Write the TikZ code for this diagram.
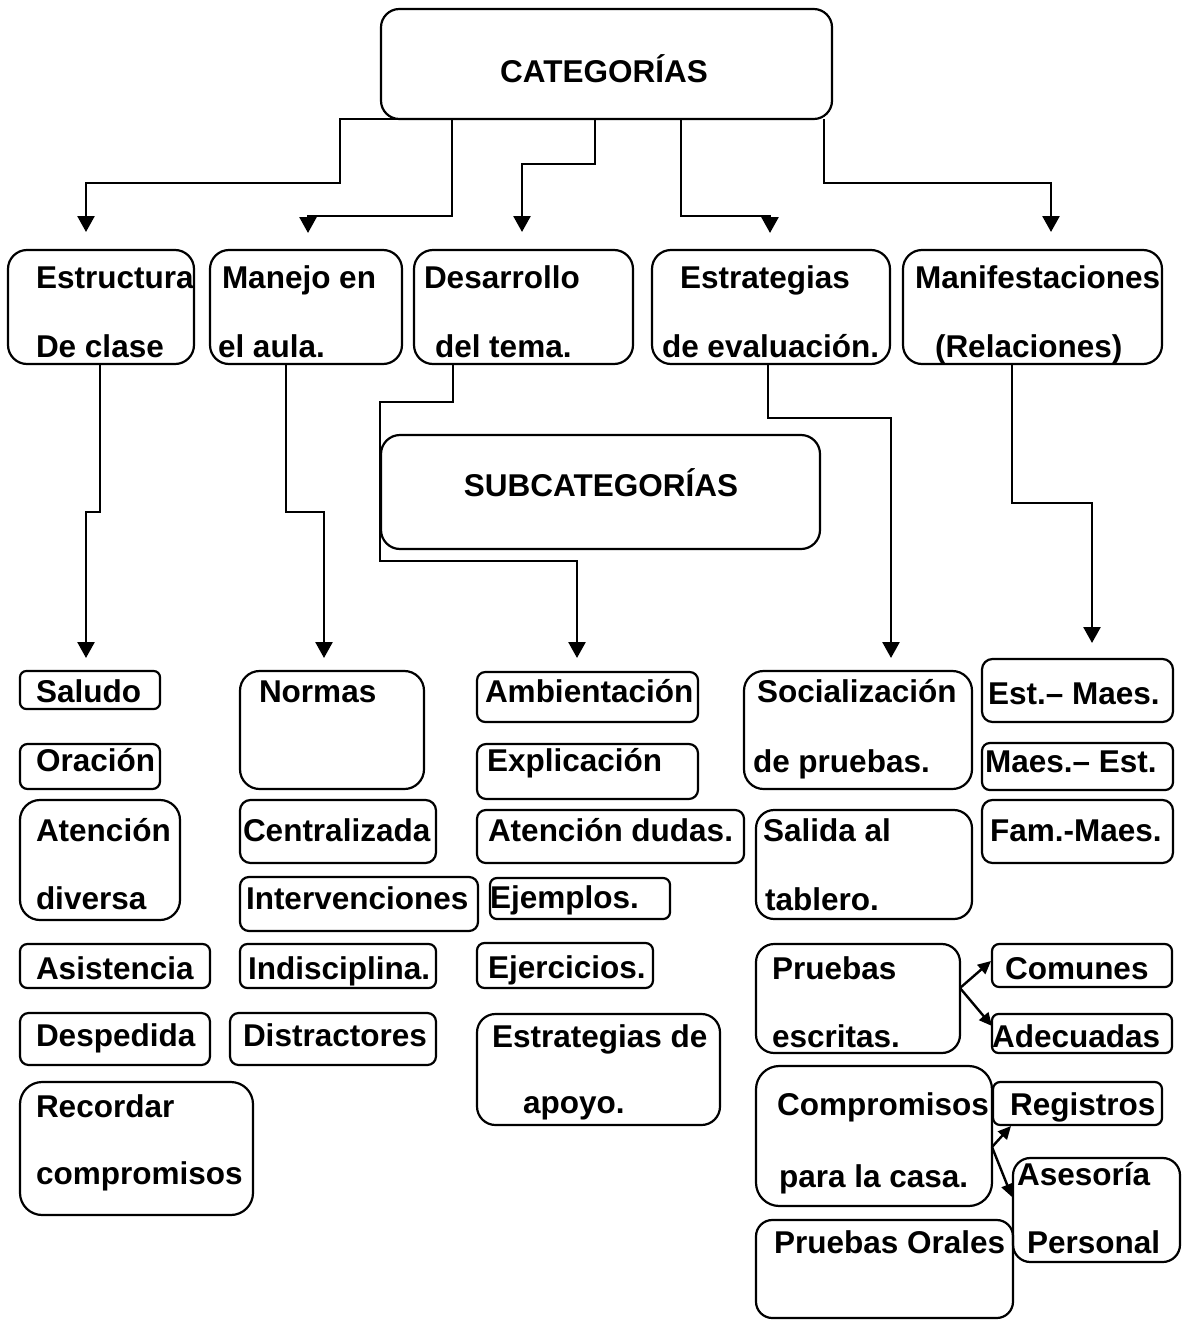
\documentclass[tikz,border=0pt]{standalone}
\usepackage{fontspec}
\setmainfont{Liberation Sans}
\usetikzlibrary{arrows.meta,calc}
\newcommand\rb[5]{%
  \pgfmathsetmacro\bw{#4-#2}%
  \pgfmathsetmacro\bh{#5-#3}%
  \pgfmathsetmacro\br{0.1667*min(\bw,\bh)}%
  \node[bx, minimum width=\bw pt, minimum height=\bh pt, rounded corners=\br pt] (#1) at ({(#2+#4)/2},{(#3+#5)/2}) {};}
\newcommand\tx[4]{\node[tx, anchor=base west] (#1) at (#2,#3) {#4};}
\begin{document}
\begin{tikzpicture}[x=1pt,y=-1pt,
  bx/.style={draw, line width=2.2pt, inner sep=0pt, outer sep=0pt},
  tx/.style={font=\fontsize{31.5}{36}\selectfont\bfseries, inner sep=0pt, outer sep=0pt},
  arr/.style={line width=2.6pt, -{Triangle[length=16pt,width=17pt]}},
  sarr/.style={line width=2.4pt, -{Triangle[length=13pt,width=12pt]}}]
\fill[white] (0,0) rectangle (1182,1322);
\useasboundingbox (0,0) rectangle (1182,1322);
% top and categories
\rb{top}{381}{9}{832}{119}
\node[tx, anchor=base] (topt) at (604,82) {CATEGORÍAS};
\rb{cA}{8}{250}{194}{364}
\rb{cB}{210}{250}{402}{364}
\rb{cC}{414}{250}{633}{364}
\rb{cD}{652}{250}{890}{364}
\rb{cE}{903}{250}{1162}{364}
\tx{cAa}{36}{288}{Estructura}\tx{cAb}{36}{357}{De clase}
\tx{cBa}{222}{288}{Manejo en}\tx{cBb}{218}{357}{el aula.}
\tx{cCa}{424}{288}{Desarrollo}\tx{cCb}{435}{357}{del tema.}
\tx{cDa}{680}{288}{Estrategias}\tx{cDb}{662}{357}{de evaluación.}
\tx{cEa}{915}{288}{Manifestaciones}\tx{cEb}{935}{357}{(Relaciones)}
\rb{sub}{381}{435}{820}{549}
\node[tx, anchor=base] (subt) at (601,496) {SUBCATEGORÍAS};
% column 1
\rb{saludo}{20}{671}{160}{709}\tx{saludot}{36}{702}{Saludo}
\rb{oracion}{20}{744}{160}{789}\tx{oraciont}{36}{771}{Oración}
\rb{atencion}{20}{800}{180}{920}\tx{atenciona}{36}{841}{Atención}\tx{atencionb}{36}{909}{diversa}
\rb{asist}{20}{944}{210}{988}\tx{asistt}{36}{979}{Asistencia}
\rb{desp}{20}{1013}{210}{1065}\tx{despt}{36}{1046}{Despedida}
\rb{record}{20}{1082}{253}{1215}\tx{recorda}{36}{1117}{Recordar}\tx{recordb}{36}{1184}{compromisos}
% column 2
\rb{normas}{240}{671}{424}{789}\tx{normast}{259}{702}{Normas}
\rb{central}{240}{800}{436}{863}\tx{centralt}{243}{841}{Centralizada}
\rb{interv}{240}{877}{478}{931}\tx{intervt}{246}{909}{Intervenciones}
\rb{indis}{240}{944}{436}{988}\tx{indist}{248}{979}{Indisciplina.}
\rb{distr}{230}{1013}{436}{1065}\tx{distrt}{243}{1046}{Distractores}
% column 3
\rb{ambi}{477}{672}{698}{722}\tx{ambit}{485}{702}{Ambientación}
\rb{expl}{477}{744}{698}{799}\tx{explt}{487}{771}{Explicación}
\rb{dudas}{477}{810}{744}{863}\tx{dudast}{488}{841}{Atención dudas.}
\rb{ejem}{490}{878}{670}{919}\tx{ejemt}{490}{908}{Ejemplos.}
\rb{ejer}{477}{943}{653}{988}\tx{ejert}{488}{978}{Ejercicios.}
\rb{apoyo}{477}{1014}{720}{1125}\tx{apoyoa}{492}{1047}{Estrategias de}\tx{apoyob}{523}{1113}{apoyo.}
% column 4
\rb{social}{744}{671}{972}{789}\tx{sociala}{757}{702}{Socialización}\tx{socialb}{753}{772}{de pruebas.}
\rb{salida}{756}{810}{972}{919}\tx{salidaa}{763}{841}{Salida al}\tx{salidab}{765}{910}{tablero.}
\rb{pescr}{756}{944}{960}{1053}\tx{pescra}{772}{979}{Pruebas}\tx{pescrb}{772}{1047}{escritas.}
\rb{comp}{756}{1066}{992}{1206}\tx{compa}{777}{1115}{Compromisos}\tx{compb}{779}{1187}{para la casa.}
\rb{orales}{756}{1220}{1013}{1318}\tx{oralest}{774}{1253}{Pruebas Orales}
% column 5
\rb{em}{982}{659}{1173}{722}\tx{emt}{988}{704}{Est.– Maes.}
\rb{me}{982}{743}{1173}{790}\tx{met}{985}{772}{Maes.– Est.}
\rb{fm}{982}{800}{1173}{863}\tx{fmt}{990}{841}{Fam.-Maes.}
\rb{comunes}{992}{944}{1172}{987}\tx{comunest}{1005}{979}{Comunes}
\rb{adec}{992}{1014}{1172}{1053}\tx{adect}{992}{1047}{Adecuadas}
\rb{regis}{993}{1082}{1162}{1125}\tx{regist}{1010}{1115}{Registros}
\rb{ases}{1013}{1158}{1180}{1262}\tx{asesa}{1017}{1185}{Asesoría}\tx{asesb}{1027}{1253}{Personal}
% connectors from CATEGORIAS
\draw[arr] ($(top.south west)+(19,0)$) -| ($(top.south west)+(-41,64)$) -| ($(cA.north west)+(78,-18)$);
\draw[arr] ($(top.south west)+(71,0)$) |- ($(cB.north west)+(98,-34)$) -- ($(cB.north west)+(98,-17)$);
\draw[arr] ($(top.south west)+(214,0)$) |- ($(cC.north west)+(108,-86)$) -- ($(cC.north west)+(108,-18)$);
\draw[arr] ($(top.south west)+(300,0)$) |- ($(cD.north west)+(118,-34)$) -- ($(cD.north west)+(118,-17)$);
\draw[arr] ($(top.south east)+(-8,0)$) |- ($(cE.north west)+(148,-67)$) -- ($(cE.north west)+(148,-18)$);
% connectors to subcategories
\draw[arr] ($(cA.south west)+(92,0)$) |- ($(saludo.north west)+(66,-159)$) -- ($(saludo.north west)+(66,-13)$);
\draw[arr] ($(cB.south west)+(76,0)$) |- ($(normas.north west)+(84,-159)$) -- ($(normas.north west)+(84,-13)$);
\draw[arr] ($(cC.south west)+(39,0)$) |- ($(sub.north west)+(-1,-33)$) |- ($(ambi.north west)+(100,-111)$) -- ($(ambi.north west)+(100,-14)$);
\draw[arr] ($(cD.south west)+(116,0)$) |- ($(social.north west)+(147,-253)$) -- ($(social.north west)+(147,-13)$);
\draw[arr] ($(cE.south west)+(109,0)$) |- ($(em.north west)+(110,-156)$) -- ($(em.north west)+(110,-16)$);
% small arrows
\draw[sarr] ($(pescr.north east)+(0,44)$) -- ($(comunes.north west)+(-1,17)$);
\draw[sarr] ($(pescr.north east)+(0,44)$) -- ($(adec.north west)+(0,12)$);
\draw[sarr] ($(comp.north east)+(0,81)$) -- ($(regis.south west)+(18,1)$);
\draw[sarr] ($(comp.north east)+(0,81)$) -- ($(ases.north west)+(-1,39)$);
\end{tikzpicture}
\end{document}
